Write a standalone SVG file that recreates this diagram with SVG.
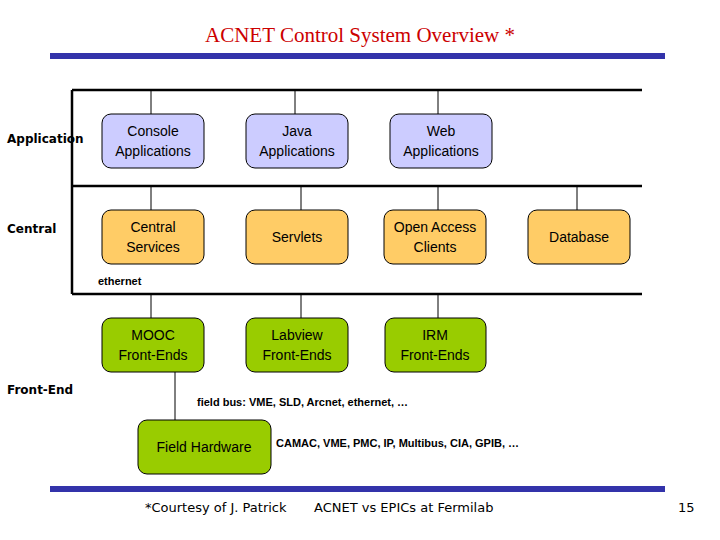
<svg xmlns="http://www.w3.org/2000/svg" width="720" height="540" viewBox="0 0 720 540">
<style>
.box{stroke:#000;stroke-width:1}
.app{fill:#ccccff}.cen{fill:#ffcc66}.fe{fill:#99cc00}
.t{font-family:"Liberation Sans",Arial,sans-serif;font-size:14px;text-anchor:middle;fill:#000}
.s{font-family:"Liberation Sans",Arial,sans-serif;font-size:11px;font-weight:bold;fill:#000}
.lbl{font-family:"DejaVu Sans",sans-serif;font-size:12px;font-weight:bold;fill:#000}
.ft{font-family:"DejaVu Sans",sans-serif;font-size:13px;fill:#000}
.ln{stroke:#000;stroke-width:1;fill:none}
.bus{stroke:#000;stroke-width:2.5;fill:none}
</style>
<rect width="720" height="540" fill="#fff"/>
<text x="360" y="42" font-family="Liberation Serif,serif" font-size="21" fill="#cc0000" text-anchor="middle">ACNET Control System Overview *</text>
<rect x="50" y="53" width="615" height="6" fill="#3333aa"/>
<rect x="50" y="486" width="615" height="6" fill="#3333aa"/>
<g id="connectors">
<path class="bus" d="M72 90H642M72 186H642M72 294H642M72 90V294"/>
<path class="ln" d="M151 90V114M295 90V114M438 90V114M151 186V210M301 186V210M438 186V210M577 186V210M151 294V318M301 294V318M438 294V318M175 372V420"/>
</g>
<g id="console"><rect class="box app" x="102" y="114" width="102" height="54" rx="9"/><text class="t" x="153" y="136">Console</text><text class="t" x="153" y="156">Applications</text></g>
<g id="java"><rect class="box app" x="246" y="114" width="102" height="54" rx="9"/><text class="t" x="297" y="136">Java</text><text class="t" x="297" y="156">Applications</text></g>
<g id="web"><rect class="box app" x="390" y="114" width="102" height="54" rx="9"/><text class="t" x="441" y="136">Web</text><text class="t" x="441" y="156">Applications</text></g>
<g id="central"><rect class="box cen" x="102" y="210" width="102" height="54" rx="9"/><text class="t" x="153" y="232">Central</text><text class="t" x="153" y="252">Services</text></g>
<g id="servlets"><rect class="box cen" x="246" y="210" width="102" height="54" rx="9"/><text class="t" x="297" y="242">Servlets</text></g>
<g id="openaccess"><rect class="box cen" x="384" y="210" width="102" height="54" rx="9"/><text class="t" x="435" y="232">Open Access</text><text class="t" x="435" y="252">Clients</text></g>
<g id="database"><rect class="box cen" x="528" y="210" width="102" height="54" rx="9"/><text class="t" x="579" y="242">Database</text></g>
<g id="mooc"><rect class="box fe" x="102" y="318" width="102" height="54" rx="9"/><text class="t" x="153" y="340">MOOC</text><text class="t" x="153" y="360">Front-Ends</text></g>
<g id="labview"><rect class="box fe" x="246" y="318" width="102" height="54" rx="9"/><text class="t" x="297" y="340">Labview</text><text class="t" x="297" y="360">Front-Ends</text></g>
<g id="irm"><rect class="box fe" x="385" y="318" width="101" height="54" rx="9"/><text class="t" x="435" y="340">IRM</text><text class="t" x="435" y="360">Front-Ends</text></g>
<g id="fieldhw"><rect class="box fe" x="138" y="420" width="133" height="54" rx="9"/><text class="t" x="204" y="452">Field Hardware</text></g>
<text class="lbl" x="7" y="143">Application</text>
<text class="lbl" x="7" y="233">Central</text>
<text class="lbl" x="7" y="394">Front-End</text>
<text class="s" x="98" y="285">ethernet</text>
<text class="s" x="197" y="406">field bus: VME, SLD, Arcnet, ethernet, …</text>
<text class="s" x="276" y="447">CAMAC, VME, PMC, IP, Multibus, CIA, GPIB, …</text>
<text class="ft" x="145" y="512">*Courtesy of J. Patrick</text>
<text class="ft" x="314" y="512">ACNET vs EPICs at Fermilab</text>
<text class="ft" x="678" y="512">15</text>
</svg>
